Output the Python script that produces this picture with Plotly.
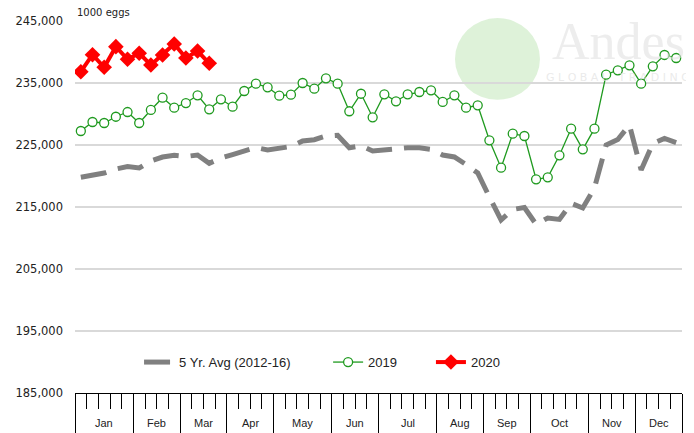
import plotly.graph_objects as go

# ---- data ----
months = ["Jan", "Feb", "Mar", "Apr", "May", "Jun", "Jul", "Aug", "Sep", "Oct", "Nov", "Dec"]
weeks_per_month = [5, 4, 4, 4, 5, 4, 5, 4, 4, 5, 4, 4]

avg_5yr = [219790, 220080, 220480, 221130, 221530, 221290, 222420, 223060, 223340, 223150,
           223390, 222050, 222900, 223450, 224030, 224600, 224200, 224435, 224758, 225645,
           225855, 226450, 226565, 224565, 224887, 224030, 224225, 224467, 224565, 224550,
           224306, 223387, 223065, 221855, 220484, 216613, 212903, 214600, 214920, 212210,
           213230, 213000, 215600, 214840, 218070, 225000, 225890, 228230, 220970, 225240,
           226050, 225400]

y2019 = [227260, 228710, 228550, 229560, 230320, 228550, 230650, 232630, 231020, 231770,
         233020, 230760, 232370, 231180, 233710, 234890, 234300, 232950, 233110, 235000,
         234080, 235760, 234890, 230440, 233270, 229470, 233180, 232050, 233180, 233550,
         233820, 231940, 233020, 231020, 231400, 225760, 221340, 226820, 226450, 219470,
         219790, 223340, 227630, 224300, 227630, 236340, 237050, 237850, 234890, 237690,
         239520, 239030]

y2020 = [236820, 239560, 237530, 240860, 238820, 239790, 237900, 239520, 241290, 239030,
         240160, 238180]

y_ticks = [185000, 195000, 205000, 215000, 225000, 235000, 245000]
unit_label = "1000 eggs"

# ---- derived positions ----
n_weeks = sum(weeks_per_month)
week_x = [i + 0.5 for i in range(n_weeks)]
bounds = [0]
for w in weeks_per_month:
    bounds.append(bounds[-1] + w)
month_centers = [(bounds[i] + bounds[i + 1]) / 2 for i in range(len(months))]

NB = "\u00a0"
fig = go.Figure()
fig.add_trace(go.Scatter(
    x=week_x, y=avg_5yr, name="5 Yr. Avg (2012-16)" + NB * 9, mode="lines",
    line=dict(color="#808080", width=5, dash="26px,12px"),
))
fig.add_trace(go.Scatter(
    x=week_x, y=y2019, name="2019" + NB * 8, mode="lines+markers",
    line=dict(color="#1f9a1f", width=1.3),
    marker=dict(symbol="circle", size=9, color="white",
                line=dict(color="#1f9a1f", width=1.3)),
))
fig.add_trace(go.Scatter(
    x=week_x[:len(y2020)], y=y2020, name="2020", mode="lines+markers",
    line=dict(color="#ff0000", width=4),
    marker=dict(symbol="diamond", size=12, color="#ff0000"),
))

# month labels
for m, c in zip(months, month_centers):
    fig.add_annotation(x=c, y=-0.081, xref="x", yref="paper", text=m,
                       showarrow=False, font=dict(family="Liberation Sans", size=11, color="#222"),
                       xanchor="center", yanchor="middle")

fig.add_annotation(x=0, y=1.0, xref="paper", yref="paper", text=unit_label,
                   showarrow=False, xanchor="left", yanchor="bottom", yshift=1,
                   font=dict(family="DejaVu Sans", size=10, color="#222"))

# watermark (logo approximation)
fig.add_shape(type="circle", xref="paper", yref="paper",
              x0=0.626, x1=0.766, y0=0.788, y1=1.008, layer="below",
              fillcolor="rgba(195,232,185,0.55)", line=dict(width=0))
fig.add_annotation(x=0.895, y=0.946, xref="paper", yref="paper", text="Andes",
                   showarrow=False, xanchor="center", yanchor="middle",
                   font=dict(family="Liberation Serif", size=52, color="rgba(225,225,225,0.6)"))
fig.add_annotation(x=0.895, y=0.849, xref="paper", yref="paper", text="G L O B A L   T R A D I N G",
                   showarrow=False, xanchor="center", yanchor="middle",
                   font=dict(family="DejaVu Sans", size=11, color="rgba(220,220,220,0.6)"))

# page body has an 8px default margin: shrink the figure so the plot area lands where intended
fig.update_layout(
    width=686, height=425,
    margin=dict(l=67, r=12, t=13, b=40, autoexpand=False),
    paper_bgcolor="white", plot_bgcolor="white",
    showlegend=True,
    legend=dict(orientation="h", x=0.407, y=0.083, xanchor="center", yanchor="middle",
                font=dict(family="Liberation Sans", size=13, color="#222"),
                bgcolor="rgba(0,0,0,0)"),
    hovermode=False,
)
fig.update_xaxes(
    range=[0, n_weeks], showgrid=False, zeroline=False, automargin=False,
    showline=True, linecolor="black", linewidth=1,
    tickmode="array", tickvals=bounds, ticks="outside", ticklen=40,
    tickcolor="black", tickwidth=1, showticklabels=False,
    minor=dict(tickmode="linear", tick0=0, dtick=1, ticks="outside",
               ticklen=15, tickcolor="black", tickwidth=1, showgrid=False),
)
fig.update_yaxes(
    range=[185000, 245000], tickmode="array", tickvals=y_ticks, automargin=False,
    tickformat=",", showgrid=True, gridcolor="#d9d9d9", gridwidth=1.5,
    zeroline=False, showline=False, ticks="", ticklabelstandoff=11,
    tickfont=dict(family="DejaVu Sans", size=11.5, color="#222"),
)

fig.write_html("out.html", config={"displayModeBar": False})
